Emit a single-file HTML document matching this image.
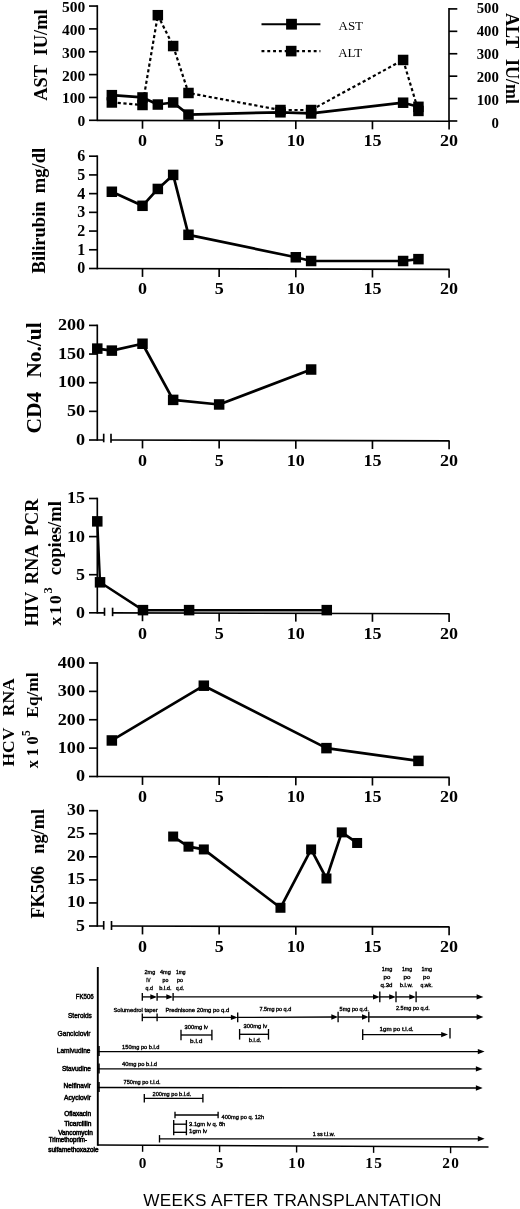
<!DOCTYPE html>
<html><head><meta charset="utf-8"><title>chart</title>
<style>html,body{margin:0;padding:0;background:#fff}svg{display:block;will-change:transform}</style>
</head><body>
<svg width="520" height="1209" viewBox="0 0 520 1209">
<rect width="520" height="1209" fill="#fff"/>
<line x1="97.30" y1="5.22" x2="97.30" y2="121.12" stroke="#000" stroke-width="1.65" />
<line x1="89.00" y1="120.30" x2="97.30" y2="120.30" stroke="#000" stroke-width="1.65" />
<text x="85.30" y="126.20" font-size="15.5" text-anchor="end" font-family="Liberation Serif" font-weight="bold" >0</text>
<line x1="89.00" y1="97.45" x2="97.30" y2="97.45" stroke="#000" stroke-width="1.65" />
<text x="85.30" y="103.35" font-size="15.5" text-anchor="end" font-family="Liberation Serif" font-weight="bold" >100</text>
<line x1="89.00" y1="74.60" x2="97.30" y2="74.60" stroke="#000" stroke-width="1.65" />
<text x="85.30" y="80.50" font-size="15.5" text-anchor="end" font-family="Liberation Serif" font-weight="bold" >200</text>
<line x1="89.00" y1="51.75" x2="97.30" y2="51.75" stroke="#000" stroke-width="1.65" />
<text x="85.30" y="57.65" font-size="15.5" text-anchor="end" font-family="Liberation Serif" font-weight="bold" >300</text>
<line x1="89.00" y1="28.90" x2="97.30" y2="28.90" stroke="#000" stroke-width="1.65" />
<text x="85.30" y="34.80" font-size="15.5" text-anchor="end" font-family="Liberation Serif" font-weight="bold" >400</text>
<line x1="89.00" y1="6.05" x2="97.30" y2="6.05" stroke="#000" stroke-width="1.65" />
<text x="85.30" y="11.95" font-size="15.5" text-anchor="end" font-family="Liberation Serif" font-weight="bold" >500</text>
<line x1="97.30" y1="120.30" x2="449.60" y2="121.20" stroke="#000" stroke-width="1.65" />
<line x1="142.50" y1="120.42" x2="142.50" y2="128.72" stroke="#000" stroke-width="1.65" />
<text transform="translate(142.50,146.00) scale(1.05,1)" font-size="17.2" text-anchor="middle" font-family="Liberation Serif" font-weight="bold" >0</text>
<line x1="219.15" y1="120.61" x2="219.15" y2="128.91" stroke="#000" stroke-width="1.65" />
<text transform="translate(219.15,146.00) scale(1.05,1)" font-size="17.2" text-anchor="middle" font-family="Liberation Serif" font-weight="bold" >5</text>
<line x1="295.80" y1="120.81" x2="295.80" y2="129.11" stroke="#000" stroke-width="1.65" />
<text transform="translate(295.80,146.00) scale(1.05,1)" font-size="17.2" text-anchor="middle" font-family="Liberation Serif" font-weight="bold" >10</text>
<line x1="372.45" y1="121.00" x2="372.45" y2="129.30" stroke="#000" stroke-width="1.65" />
<text transform="translate(372.45,146.00) scale(1.05,1)" font-size="17.2" text-anchor="middle" font-family="Liberation Serif" font-weight="bold" >15</text>
<line x1="449.10" y1="121.20" x2="449.10" y2="129.50" stroke="#000" stroke-width="1.65" />
<text transform="translate(449.10,146.00) scale(1.05,1)" font-size="17.2" text-anchor="middle" font-family="Liberation Serif" font-weight="bold" >20</text>
<line x1="449.00" y1="8.08" x2="449.00" y2="121.83" stroke="#000" stroke-width="1.65" />
<line x1="449.00" y1="121.00" x2="457.30" y2="121.00" stroke="#000" stroke-width="1.65" />
<text x="498.90" y="127.50" font-size="14.8" text-anchor="end" font-family="Liberation Serif" font-weight="bold" >0</text>
<line x1="449.00" y1="98.58" x2="457.30" y2="98.58" stroke="#000" stroke-width="1.65" />
<text x="498.90" y="104.55" font-size="14.8" text-anchor="end" font-family="Liberation Serif" font-weight="bold" >100</text>
<line x1="449.00" y1="76.16" x2="457.30" y2="76.16" stroke="#000" stroke-width="1.65" />
<text x="498.90" y="81.60" font-size="14.8" text-anchor="end" font-family="Liberation Serif" font-weight="bold" >200</text>
<line x1="449.00" y1="53.74" x2="457.30" y2="53.74" stroke="#000" stroke-width="1.65" />
<text x="498.90" y="58.65" font-size="14.8" text-anchor="end" font-family="Liberation Serif" font-weight="bold" >300</text>
<line x1="449.00" y1="31.32" x2="457.30" y2="31.32" stroke="#000" stroke-width="1.65" />
<text x="498.90" y="35.70" font-size="14.8" text-anchor="end" font-family="Liberation Serif" font-weight="bold" >400</text>
<line x1="449.00" y1="8.90" x2="457.30" y2="8.90" stroke="#000" stroke-width="1.65" />
<text x="498.90" y="12.75" font-size="14.8" text-anchor="end" font-family="Liberation Serif" font-weight="bold" >500</text>
<polyline points="111.84,102.48 142.50,104.99 157.83,15.19 173.16,46.04 188.49,92.99 280.47,110.02 311.13,110.02 403.11,59.98 418.44,110.93" fill="none" stroke="#000" stroke-width="2.2" stroke-dasharray="3.2 2.6" stroke-linejoin="round"/>
<polyline points="111.84,95.16 142.50,97.45 157.83,104.53 173.16,102.48 188.49,114.59 280.47,112.30 311.13,113.44 403.11,102.71 418.44,106.82" fill="none" stroke="#000" stroke-width="2.7" stroke-linejoin="round"/>
<rect x="106.59" y="97.23" width="10.5" height="10.5" fill="#000"/>
<rect x="137.25" y="99.74" width="10.5" height="10.5" fill="#000"/>
<rect x="152.58" y="9.94" width="10.5" height="10.5" fill="#000"/>
<rect x="167.91" y="40.79" width="10.5" height="10.5" fill="#000"/>
<rect x="183.24" y="87.74" width="10.5" height="10.5" fill="#000"/>
<rect x="275.22" y="104.77" width="10.5" height="10.5" fill="#000"/>
<rect x="305.88" y="104.77" width="10.5" height="10.5" fill="#000"/>
<rect x="397.86" y="54.73" width="10.5" height="10.5" fill="#000"/>
<rect x="413.19" y="105.68" width="10.5" height="10.5" fill="#000"/>
<rect x="106.59" y="89.91" width="10.5" height="10.5" fill="#000"/>
<rect x="137.25" y="92.20" width="10.5" height="10.5" fill="#000"/>
<rect x="152.58" y="99.28" width="10.5" height="10.5" fill="#000"/>
<rect x="167.91" y="97.23" width="10.5" height="10.5" fill="#000"/>
<rect x="183.24" y="109.34" width="10.5" height="10.5" fill="#000"/>
<rect x="275.22" y="107.05" width="10.5" height="10.5" fill="#000"/>
<rect x="305.88" y="108.19" width="10.5" height="10.5" fill="#000"/>
<rect x="397.86" y="97.46" width="10.5" height="10.5" fill="#000"/>
<rect x="413.19" y="101.57" width="10.5" height="10.5" fill="#000"/>
<text transform="translate(47.00,100.80) rotate(-90)" font-size="18.5" text-anchor="start" font-family="Liberation Serif" font-weight="bold" >AST</text>
<text transform="translate(47.00,9.30) rotate(-90)" font-size="18.5" text-anchor="end" font-family="Liberation Serif" font-weight="bold" >IU/ml</text>
<text transform="translate(506.20,13.00) rotate(90)" font-size="18" text-anchor="start" font-family="Liberation Serif" font-weight="bold" >ALT</text>
<text transform="translate(506.20,104.00) rotate(90)" font-size="18" text-anchor="end" font-family="Liberation Serif" font-weight="bold" >IU/ml</text>
<line x1="261.50" y1="24.20" x2="320.40" y2="24.20" stroke="#000" stroke-width="2.1" />
<rect x="286.10" y="18.80" width="10.8" height="10.8" fill="#000"/>
<line x1="261.50" y1="51.10" x2="320.40" y2="51.10" stroke="#000" stroke-width="2.1" stroke-dasharray="2.9 2.9"/>
<rect x="285.90" y="45.80" width="10.6" height="10.6" fill="#000"/>
<text x="338.50" y="30.30" font-size="13" text-anchor="start" font-family="Liberation Serif" >AST</text>
<text x="338.20" y="56.90" font-size="13" text-anchor="start" font-family="Liberation Serif" >ALT</text>
<line x1="97.30" y1="155.38" x2="97.30" y2="269.32" stroke="#000" stroke-width="1.65" />
<line x1="89.00" y1="268.50" x2="97.30" y2="268.50" stroke="#000" stroke-width="1.65" />
<text x="85.30" y="273.40" font-size="16" text-anchor="end" font-family="Liberation Serif" font-weight="bold" >0</text>
<line x1="89.00" y1="249.78" x2="97.30" y2="249.78" stroke="#000" stroke-width="1.65" />
<text x="85.30" y="254.68" font-size="16" text-anchor="end" font-family="Liberation Serif" font-weight="bold" >1</text>
<line x1="89.00" y1="231.07" x2="97.30" y2="231.07" stroke="#000" stroke-width="1.65" />
<text x="85.30" y="235.97" font-size="16" text-anchor="end" font-family="Liberation Serif" font-weight="bold" >2</text>
<line x1="89.00" y1="212.35" x2="97.30" y2="212.35" stroke="#000" stroke-width="1.65" />
<text x="85.30" y="217.25" font-size="16" text-anchor="end" font-family="Liberation Serif" font-weight="bold" >3</text>
<line x1="89.00" y1="193.63" x2="97.30" y2="193.63" stroke="#000" stroke-width="1.65" />
<text x="85.30" y="198.53" font-size="16" text-anchor="end" font-family="Liberation Serif" font-weight="bold" >4</text>
<line x1="89.00" y1="174.92" x2="97.30" y2="174.92" stroke="#000" stroke-width="1.65" />
<text x="85.30" y="179.82" font-size="16" text-anchor="end" font-family="Liberation Serif" font-weight="bold" >5</text>
<line x1="89.00" y1="156.20" x2="97.30" y2="156.20" stroke="#000" stroke-width="1.65" />
<text x="85.30" y="161.10" font-size="16" text-anchor="end" font-family="Liberation Serif" font-weight="bold" >6</text>
<line x1="97.30" y1="268.50" x2="449.60" y2="269.40" stroke="#000" stroke-width="1.65" />
<line x1="142.50" y1="268.62" x2="142.50" y2="276.92" stroke="#000" stroke-width="1.65" />
<text transform="translate(142.50,293.80) scale(1.05,1)" font-size="17.2" text-anchor="middle" font-family="Liberation Serif" font-weight="bold" >0</text>
<line x1="219.15" y1="268.81" x2="219.15" y2="277.11" stroke="#000" stroke-width="1.65" />
<text transform="translate(219.15,293.80) scale(1.05,1)" font-size="17.2" text-anchor="middle" font-family="Liberation Serif" font-weight="bold" >5</text>
<line x1="295.80" y1="269.01" x2="295.80" y2="277.31" stroke="#000" stroke-width="1.65" />
<text transform="translate(295.80,293.80) scale(1.05,1)" font-size="17.2" text-anchor="middle" font-family="Liberation Serif" font-weight="bold" >10</text>
<line x1="372.45" y1="269.20" x2="372.45" y2="277.50" stroke="#000" stroke-width="1.65" />
<text transform="translate(372.45,293.80) scale(1.05,1)" font-size="17.2" text-anchor="middle" font-family="Liberation Serif" font-weight="bold" >15</text>
<line x1="449.10" y1="269.40" x2="449.10" y2="277.70" stroke="#000" stroke-width="1.65" />
<text transform="translate(449.10,293.80) scale(1.05,1)" font-size="17.2" text-anchor="middle" font-family="Liberation Serif" font-weight="bold" >20</text>
<polyline points="111.84,191.76 142.50,205.80 157.83,188.95 173.16,174.92 188.49,234.81 295.80,257.27 311.13,261.01 403.11,261.01 418.44,259.14" fill="none" stroke="#000" stroke-width="2.7" stroke-linejoin="round"/>
<rect x="106.59" y="186.51" width="10.5" height="10.5" fill="#000"/>
<rect x="137.25" y="200.55" width="10.5" height="10.5" fill="#000"/>
<rect x="152.58" y="183.70" width="10.5" height="10.5" fill="#000"/>
<rect x="167.91" y="169.67" width="10.5" height="10.5" fill="#000"/>
<rect x="183.24" y="229.56" width="10.5" height="10.5" fill="#000"/>
<rect x="290.55" y="252.02" width="10.5" height="10.5" fill="#000"/>
<rect x="305.88" y="255.76" width="10.5" height="10.5" fill="#000"/>
<rect x="397.86" y="255.76" width="10.5" height="10.5" fill="#000"/>
<rect x="413.19" y="253.89" width="10.5" height="10.5" fill="#000"/>
<text transform="translate(44.90,273.40) rotate(-90)" font-size="18.5" text-anchor="start" font-family="Liberation Serif" font-weight="bold" >Bilirubin</text>
<text transform="translate(44.90,147.90) rotate(-90)" font-size="18.5" text-anchor="end" font-family="Liberation Serif" font-weight="bold" >mg/dl</text>
<line x1="97.30" y1="324.57" x2="97.30" y2="440.82" stroke="#000" stroke-width="1.65" />
<line x1="89.00" y1="440.00" x2="97.30" y2="440.00" stroke="#000" stroke-width="1.65" />
<text transform="translate(85.20,444.60) scale(1.07,1)" font-size="17" text-anchor="end" font-family="Liberation Serif" font-weight="bold" >0</text>
<line x1="89.00" y1="411.35" x2="97.30" y2="411.35" stroke="#000" stroke-width="1.65" />
<text transform="translate(85.20,415.95) scale(1.07,1)" font-size="17" text-anchor="end" font-family="Liberation Serif" font-weight="bold" >50</text>
<line x1="89.00" y1="382.70" x2="97.30" y2="382.70" stroke="#000" stroke-width="1.65" />
<text transform="translate(85.20,387.30) scale(1.07,1)" font-size="17" text-anchor="end" font-family="Liberation Serif" font-weight="bold" >100</text>
<line x1="89.00" y1="354.05" x2="97.30" y2="354.05" stroke="#000" stroke-width="1.65" />
<text transform="translate(85.20,358.65) scale(1.07,1)" font-size="17" text-anchor="end" font-family="Liberation Serif" font-weight="bold" >150</text>
<line x1="89.00" y1="325.40" x2="97.30" y2="325.40" stroke="#000" stroke-width="1.65" />
<text transform="translate(85.20,330.00) scale(1.07,1)" font-size="17" text-anchor="end" font-family="Liberation Serif" font-weight="bold" >200</text>
<line x1="97.30" y1="440.00" x2="103.70" y2="440.02" stroke="#000" stroke-width="1.65" />
<line x1="103.70" y1="433.70" x2="103.70" y2="442.30" stroke="#000" stroke-width="1.65" />
<line x1="111.00" y1="433.70" x2="111.00" y2="442.70" stroke="#000" stroke-width="1.65" />
<line x1="111.00" y1="440.03" x2="449.60" y2="440.90" stroke="#000" stroke-width="1.65" />
<line x1="142.50" y1="440.12" x2="142.50" y2="448.42" stroke="#000" stroke-width="1.65" />
<text transform="translate(142.50,466.30) scale(1.05,1)" font-size="17.2" text-anchor="middle" font-family="Liberation Serif" font-weight="bold" >0</text>
<line x1="219.15" y1="440.31" x2="219.15" y2="448.61" stroke="#000" stroke-width="1.65" />
<text transform="translate(219.15,466.30) scale(1.05,1)" font-size="17.2" text-anchor="middle" font-family="Liberation Serif" font-weight="bold" >5</text>
<line x1="295.80" y1="440.51" x2="295.80" y2="448.81" stroke="#000" stroke-width="1.65" />
<text transform="translate(295.80,466.30) scale(1.05,1)" font-size="17.2" text-anchor="middle" font-family="Liberation Serif" font-weight="bold" >10</text>
<line x1="372.45" y1="440.70" x2="372.45" y2="449.00" stroke="#000" stroke-width="1.65" />
<text transform="translate(372.45,466.30) scale(1.05,1)" font-size="17.2" text-anchor="middle" font-family="Liberation Serif" font-weight="bold" >15</text>
<line x1="449.10" y1="440.90" x2="449.10" y2="449.20" stroke="#000" stroke-width="1.65" />
<text transform="translate(449.10,466.30) scale(1.05,1)" font-size="17.2" text-anchor="middle" font-family="Liberation Serif" font-weight="bold" >20</text>
<polyline points="97.28,348.61 111.84,350.61 142.50,343.74 173.16,399.89 219.15,404.47 311.13,369.52" fill="none" stroke="#000" stroke-width="2.7" stroke-linejoin="round"/>
<rect x="92.03" y="343.36" width="10.5" height="10.5" fill="#000"/>
<rect x="106.59" y="345.36" width="10.5" height="10.5" fill="#000"/>
<rect x="137.25" y="338.49" width="10.5" height="10.5" fill="#000"/>
<rect x="167.91" y="394.64" width="10.5" height="10.5" fill="#000"/>
<rect x="213.90" y="399.22" width="10.5" height="10.5" fill="#000"/>
<rect x="305.88" y="364.27" width="10.5" height="10.5" fill="#000"/>
<text transform="translate(40.90,433.60) rotate(-90)" font-size="21.5" text-anchor="start" font-family="Liberation Serif" font-weight="bold" >CD4</text>
<text transform="translate(40.90,322.30) rotate(-90)" font-size="21.5" text-anchor="end" font-family="Liberation Serif" font-weight="bold" >No./ul</text>
<line x1="97.30" y1="497.68" x2="97.30" y2="613.62" stroke="#000" stroke-width="1.65" />
<line x1="89.00" y1="612.80" x2="97.30" y2="612.80" stroke="#000" stroke-width="1.65" />
<text transform="translate(84.90,617.70) scale(1.04,1)" font-size="17.3" text-anchor="end" font-family="Liberation Serif" font-weight="bold" >0</text>
<line x1="89.00" y1="574.70" x2="97.30" y2="574.70" stroke="#000" stroke-width="1.65" />
<text transform="translate(84.90,579.60) scale(1.04,1)" font-size="17.3" text-anchor="end" font-family="Liberation Serif" font-weight="bold" >5</text>
<line x1="89.00" y1="536.60" x2="97.30" y2="536.60" stroke="#000" stroke-width="1.65" />
<text transform="translate(84.90,541.50) scale(1.04,1)" font-size="17.3" text-anchor="end" font-family="Liberation Serif" font-weight="bold" >10</text>
<line x1="89.00" y1="498.50" x2="97.30" y2="498.50" stroke="#000" stroke-width="1.65" />
<text transform="translate(84.90,503.40) scale(1.04,1)" font-size="17.3" text-anchor="end" font-family="Liberation Serif" font-weight="bold" >15</text>
<line x1="97.30" y1="612.80" x2="104.50" y2="612.82" stroke="#000" stroke-width="1.65" />
<line x1="104.50" y1="607.70" x2="104.50" y2="615.80" stroke="#000" stroke-width="1.65" />
<line x1="112.60" y1="607.70" x2="112.60" y2="616.20" stroke="#000" stroke-width="1.65" />
<line x1="112.60" y1="612.84" x2="449.60" y2="613.70" stroke="#000" stroke-width="1.65" />
<line x1="142.50" y1="612.92" x2="142.50" y2="621.22" stroke="#000" stroke-width="1.65" />
<text transform="translate(142.50,639.10) scale(1.05,1)" font-size="17.2" text-anchor="middle" font-family="Liberation Serif" font-weight="bold" >0</text>
<line x1="219.15" y1="613.11" x2="219.15" y2="621.41" stroke="#000" stroke-width="1.65" />
<text transform="translate(219.15,639.10) scale(1.05,1)" font-size="17.2" text-anchor="middle" font-family="Liberation Serif" font-weight="bold" >5</text>
<line x1="295.80" y1="613.31" x2="295.80" y2="621.61" stroke="#000" stroke-width="1.65" />
<text transform="translate(295.80,639.10) scale(1.05,1)" font-size="17.2" text-anchor="middle" font-family="Liberation Serif" font-weight="bold" >10</text>
<line x1="372.45" y1="613.50" x2="372.45" y2="621.80" stroke="#000" stroke-width="1.65" />
<text transform="translate(372.45,639.10) scale(1.05,1)" font-size="17.2" text-anchor="middle" font-family="Liberation Serif" font-weight="bold" >15</text>
<line x1="449.10" y1="613.70" x2="449.10" y2="622.00" stroke="#000" stroke-width="1.65" />
<text transform="translate(449.10,639.10) scale(1.05,1)" font-size="17.2" text-anchor="middle" font-family="Liberation Serif" font-weight="bold" >20</text>
<line x1="142.50" y1="611.75" x2="326.46" y2="611.90" stroke="#000" stroke-width="0.9" opacity="0.45"/>
<polyline points="97.28,521.36 100.04,582.32 142.96,610.13 189.10,610.13 326.77,610.13" fill="none" stroke="#000" stroke-width="2.4" stroke-linejoin="round"/>
<rect x="92.03" y="516.11" width="10.5" height="10.5" fill="#000"/>
<rect x="94.79" y="577.07" width="10.5" height="10.5" fill="#000"/>
<rect x="137.71" y="604.88" width="10.5" height="10.5" fill="#000"/>
<rect x="183.85" y="604.88" width="10.5" height="10.5" fill="#000"/>
<rect x="321.52" y="604.88" width="10.5" height="10.5" fill="#000"/>
<text transform="translate(37.60,626.30) rotate(-90)" font-size="18.3" text-anchor="start" font-family="Liberation Serif" font-weight="bold" >HIV</text>
<text transform="translate(37.60,564.40) rotate(-90)" font-size="18.3" text-anchor="middle" font-family="Liberation Serif" font-weight="bold" >RNA</text>
<text transform="translate(37.60,498.50) rotate(-90)" font-size="18.3" text-anchor="end" font-family="Liberation Serif" font-weight="bold" >PCR</text>
<text transform="translate(60.50,625.60) rotate(-90)" font-size="17.6" text-anchor="start" font-family="Liberation Serif" font-weight="bold" letter-spacing="2.0">x10</text>
<text transform="translate(52.40,593.60) rotate(-90)" font-size="12.5" text-anchor="start" font-family="Liberation Serif" font-weight="bold" >3</text>
<text transform="translate(60.50,501.20) rotate(-90)" font-size="18.5" text-anchor="end" font-family="Liberation Serif" font-weight="bold" >copies/ml</text>
<line x1="97.30" y1="662.17" x2="97.30" y2="777.33" stroke="#000" stroke-width="1.65" />
<line x1="89.00" y1="776.50" x2="97.30" y2="776.50" stroke="#000" stroke-width="1.65" />
<text transform="translate(85.00,781.30) scale(1.04,1)" font-size="17.5" text-anchor="end" font-family="Liberation Serif" font-weight="bold" >0</text>
<line x1="89.00" y1="748.12" x2="97.30" y2="748.12" stroke="#000" stroke-width="1.65" />
<text transform="translate(85.00,752.92) scale(1.04,1)" font-size="17.5" text-anchor="end" font-family="Liberation Serif" font-weight="bold" >100</text>
<line x1="89.00" y1="719.75" x2="97.30" y2="719.75" stroke="#000" stroke-width="1.65" />
<text transform="translate(85.00,724.55) scale(1.04,1)" font-size="17.5" text-anchor="end" font-family="Liberation Serif" font-weight="bold" >200</text>
<line x1="89.00" y1="691.38" x2="97.30" y2="691.38" stroke="#000" stroke-width="1.65" />
<text transform="translate(85.00,696.17) scale(1.04,1)" font-size="17.5" text-anchor="end" font-family="Liberation Serif" font-weight="bold" >300</text>
<line x1="89.00" y1="663.00" x2="97.30" y2="663.00" stroke="#000" stroke-width="1.65" />
<text transform="translate(85.00,667.80) scale(1.04,1)" font-size="17.5" text-anchor="end" font-family="Liberation Serif" font-weight="bold" >400</text>
<line x1="97.30" y1="776.50" x2="449.60" y2="777.40" stroke="#000" stroke-width="1.65" />
<line x1="142.50" y1="776.62" x2="142.50" y2="784.92" stroke="#000" stroke-width="1.65" />
<text transform="translate(142.50,801.90) scale(1.05,1)" font-size="17.2" text-anchor="middle" font-family="Liberation Serif" font-weight="bold" >0</text>
<line x1="219.15" y1="776.81" x2="219.15" y2="785.11" stroke="#000" stroke-width="1.65" />
<text transform="translate(219.15,801.90) scale(1.05,1)" font-size="17.2" text-anchor="middle" font-family="Liberation Serif" font-weight="bold" >5</text>
<line x1="295.80" y1="777.01" x2="295.80" y2="785.31" stroke="#000" stroke-width="1.65" />
<text transform="translate(295.80,801.90) scale(1.05,1)" font-size="17.2" text-anchor="middle" font-family="Liberation Serif" font-weight="bold" >10</text>
<line x1="372.45" y1="777.20" x2="372.45" y2="785.50" stroke="#000" stroke-width="1.65" />
<text transform="translate(372.45,801.90) scale(1.05,1)" font-size="17.2" text-anchor="middle" font-family="Liberation Serif" font-weight="bold" >15</text>
<line x1="449.10" y1="777.40" x2="449.10" y2="785.70" stroke="#000" stroke-width="1.65" />
<text transform="translate(449.10,801.90) scale(1.05,1)" font-size="17.2" text-anchor="middle" font-family="Liberation Serif" font-weight="bold" >20</text>
<polyline points="111.84,740.46 203.82,685.70 326.46,748.12 418.44,760.89" fill="none" stroke="#000" stroke-width="2.7" stroke-linejoin="round"/>
<rect x="106.59" y="735.21" width="10.5" height="10.5" fill="#000"/>
<rect x="198.57" y="680.45" width="10.5" height="10.5" fill="#000"/>
<rect x="321.21" y="742.88" width="10.5" height="10.5" fill="#000"/>
<rect x="413.19" y="755.64" width="10.5" height="10.5" fill="#000"/>
<text transform="translate(14.40,766.50) rotate(-90)" font-size="17.5" text-anchor="start" font-family="Liberation Serif" font-weight="bold" >HCV</text>
<text transform="translate(14.40,678.30) rotate(-90)" font-size="17.5" text-anchor="end" font-family="Liberation Serif" font-weight="bold" >RNA</text>
<text transform="translate(37.50,768.20) rotate(-90)" font-size="16.2" text-anchor="start" font-family="Liberation Serif" font-weight="bold" letter-spacing="3.8">x10</text>
<text transform="translate(29.60,736.00) rotate(-90)" font-size="11.5" text-anchor="start" font-family="Liberation Serif" font-weight="bold" >5</text>
<text transform="translate(37.50,672.50) rotate(-90)" font-size="17.3" text-anchor="end" font-family="Liberation Serif" font-weight="bold" >Eq/ml</text>
<line x1="97.30" y1="809.88" x2="97.30" y2="926.83" stroke="#000" stroke-width="1.65" />
<line x1="89.00" y1="926.00" x2="97.30" y2="926.00" stroke="#000" stroke-width="1.65" />
<text transform="translate(84.90,930.50) scale(1.05,1)" font-size="17" text-anchor="end" font-family="Liberation Serif" font-weight="bold" >5</text>
<line x1="89.00" y1="902.94" x2="97.30" y2="902.94" stroke="#000" stroke-width="1.65" />
<text transform="translate(84.90,907.44) scale(1.05,1)" font-size="17" text-anchor="end" font-family="Liberation Serif" font-weight="bold" >10</text>
<line x1="89.00" y1="879.88" x2="97.30" y2="879.88" stroke="#000" stroke-width="1.65" />
<text transform="translate(84.90,884.38) scale(1.05,1)" font-size="17" text-anchor="end" font-family="Liberation Serif" font-weight="bold" >15</text>
<line x1="89.00" y1="856.82" x2="97.30" y2="856.82" stroke="#000" stroke-width="1.65" />
<text transform="translate(84.90,861.32) scale(1.05,1)" font-size="17" text-anchor="end" font-family="Liberation Serif" font-weight="bold" >20</text>
<line x1="89.00" y1="833.76" x2="97.30" y2="833.76" stroke="#000" stroke-width="1.65" />
<text transform="translate(84.90,838.26) scale(1.05,1)" font-size="17" text-anchor="end" font-family="Liberation Serif" font-weight="bold" >25</text>
<line x1="89.00" y1="810.70" x2="97.30" y2="810.70" stroke="#000" stroke-width="1.65" />
<text transform="translate(84.90,815.20) scale(1.05,1)" font-size="17" text-anchor="end" font-family="Liberation Serif" font-weight="bold" >30</text>
<line x1="97.30" y1="926.00" x2="103.70" y2="926.02" stroke="#000" stroke-width="1.65" />
<line x1="103.70" y1="921.00" x2="103.70" y2="929.60" stroke="#000" stroke-width="1.65" />
<line x1="111.50" y1="921.00" x2="111.50" y2="930.00" stroke="#000" stroke-width="1.65" />
<line x1="111.50" y1="926.04" x2="449.60" y2="926.90" stroke="#000" stroke-width="1.65" />
<line x1="142.50" y1="926.12" x2="142.50" y2="934.42" stroke="#000" stroke-width="1.65" />
<text transform="translate(142.50,952.30) scale(1.05,1)" font-size="17.2" text-anchor="middle" font-family="Liberation Serif" font-weight="bold" >0</text>
<line x1="219.15" y1="926.31" x2="219.15" y2="934.61" stroke="#000" stroke-width="1.65" />
<text transform="translate(219.15,952.30) scale(1.05,1)" font-size="17.2" text-anchor="middle" font-family="Liberation Serif" font-weight="bold" >5</text>
<line x1="295.80" y1="926.51" x2="295.80" y2="934.81" stroke="#000" stroke-width="1.65" />
<text transform="translate(295.80,952.30) scale(1.05,1)" font-size="17.2" text-anchor="middle" font-family="Liberation Serif" font-weight="bold" >10</text>
<line x1="372.45" y1="926.70" x2="372.45" y2="935.00" stroke="#000" stroke-width="1.65" />
<text transform="translate(372.45,952.30) scale(1.05,1)" font-size="17.2" text-anchor="middle" font-family="Liberation Serif" font-weight="bold" >15</text>
<line x1="449.10" y1="926.90" x2="449.10" y2="935.20" stroke="#000" stroke-width="1.65" />
<text transform="translate(449.10,952.30) scale(1.05,1)" font-size="17.2" text-anchor="middle" font-family="Liberation Serif" font-weight="bold" >20</text>
<polyline points="173.16,836.53 188.49,846.67 203.82,849.44 280.47,907.78 311.13,849.44 326.46,878.50 341.79,832.38 357.12,842.98" fill="none" stroke="#000" stroke-width="2.7" stroke-linejoin="round"/>
<rect x="168.16" y="831.53" width="10" height="10" fill="#000"/>
<rect x="183.49" y="841.67" width="10" height="10" fill="#000"/>
<rect x="198.82" y="844.44" width="10" height="10" fill="#000"/>
<rect x="275.47" y="902.78" width="10" height="10" fill="#000"/>
<rect x="306.13" y="844.44" width="10" height="10" fill="#000"/>
<rect x="321.46" y="873.50" width="10" height="10" fill="#000"/>
<rect x="336.79" y="827.38" width="10" height="10" fill="#000"/>
<rect x="352.12" y="837.98" width="10" height="10" fill="#000"/>
<text transform="translate(44.20,918.60) rotate(-90)" font-size="18.3" text-anchor="start" font-family="Liberation Serif" font-weight="bold" >FK506</text>
<text transform="translate(44.20,809.00) rotate(-90)" font-size="18.3" text-anchor="end" font-family="Liberation Serif" font-weight="bold" >ng/ml</text>
<line x1="97.80" y1="967.00" x2="97.80" y2="1145.80" stroke="#000" stroke-width="1.9" />
<line x1="99.00" y1="1046.00" x2="99.00" y2="1056.00" stroke="#000" stroke-width="1.5" />
<line x1="99.00" y1="1063.40" x2="99.00" y2="1073.40" stroke="#000" stroke-width="1.5" />
<line x1="99.00" y1="1082.10" x2="99.00" y2="1092.10" stroke="#000" stroke-width="1.5" />
<line x1="97.80" y1="1145.10" x2="488.50" y2="1146.90" stroke="#000" stroke-width="1.5" />
<line x1="142.60" y1="1145.31" x2="142.60" y2="1151.81" stroke="#000" stroke-width="1.4" />
<text x="142.60" y="1167.80" font-size="15.3" text-anchor="middle" font-family="Liberation Serif" font-weight="bold" >0</text>
<line x1="219.60" y1="1145.66" x2="219.60" y2="1152.16" stroke="#000" stroke-width="1.4" />
<text x="219.60" y="1167.80" font-size="15.3" text-anchor="middle" font-family="Liberation Serif" font-weight="bold" >5</text>
<line x1="296.60" y1="1146.02" x2="296.60" y2="1152.52" stroke="#000" stroke-width="1.4" />
<text x="297.30" y="1167.80" font-size="15.3" text-anchor="middle" font-family="Liberation Serif" font-weight="bold" letter-spacing="1.4">10</text>
<line x1="373.60" y1="1146.37" x2="373.60" y2="1152.87" stroke="#000" stroke-width="1.4" />
<text x="374.30" y="1167.80" font-size="15.3" text-anchor="middle" font-family="Liberation Serif" font-weight="bold" letter-spacing="1.4">15</text>
<line x1="450.60" y1="1146.73" x2="450.60" y2="1153.23" stroke="#000" stroke-width="1.4" />
<text x="451.30" y="1167.80" font-size="15.3" text-anchor="middle" font-family="Liberation Serif" font-weight="bold" letter-spacing="1.4">20</text>
<text x="75.70" y="998.90" font-size="6.9" textLength="18.10" lengthAdjust="spacingAndGlyphs" font-family="Liberation Sans" stroke="#000" stroke-width="0.45">FK506</text>
<text x="68.00" y="1018.10" font-size="6.9" textLength="23.80" lengthAdjust="spacingAndGlyphs" font-family="Liberation Sans" stroke="#000" stroke-width="0.45">Steroids</text>
<text x="57.50" y="1036.00" font-size="6.9" textLength="33.00" lengthAdjust="spacingAndGlyphs" font-family="Liberation Sans" stroke="#000" stroke-width="0.45">Ganciclovir</text>
<text x="56.80" y="1053.20" font-size="6.9" textLength="33.70" lengthAdjust="spacingAndGlyphs" font-family="Liberation Sans" stroke="#000" stroke-width="0.45">Lamivudine</text>
<text x="61.90" y="1070.60" font-size="6.9" textLength="29.00" lengthAdjust="spacingAndGlyphs" font-family="Liberation Sans" stroke="#000" stroke-width="0.5">Stavudine</text>
<text x="63.60" y="1088.10" font-size="6.9" textLength="27.30" lengthAdjust="spacingAndGlyphs" font-family="Liberation Sans" stroke="#000" stroke-width="0.5">Nelfinavir</text>
<text x="64.00" y="1099.90" font-size="6.9" textLength="26.90" lengthAdjust="spacingAndGlyphs" font-family="Liberation Sans" stroke="#000" stroke-width="0.5">Acyclovir</text>
<text x="64.20" y="1116.30" font-size="6.9" textLength="26.90" lengthAdjust="spacingAndGlyphs" font-family="Liberation Sans" stroke="#000" stroke-width="0.55">Oflaxacin</text>
<text x="64.20" y="1125.50" font-size="6.9" textLength="27.20" lengthAdjust="spacingAndGlyphs" font-family="Liberation Sans" stroke="#000" stroke-width="0.55">Ticarcillin</text>
<text x="58.20" y="1134.60" font-size="6.9" textLength="34.60" lengthAdjust="spacingAndGlyphs" font-family="Liberation Sans" stroke="#000" stroke-width="0.55">Vancomycin</text>
<text x="48.70" y="1142.30" font-size="6.9" textLength="38.40" lengthAdjust="spacingAndGlyphs" font-family="Liberation Sans" stroke="#000" stroke-width="0.55">Trimethoprim-</text>
<text x="48.30" y="1151.70" font-size="6.9" textLength="50.20" lengthAdjust="spacingAndGlyphs" font-family="Liberation Sans" stroke="#000" stroke-width="0.55">sulfamethoxazole</text>
<line x1="142.30" y1="996.90" x2="154.10" y2="996.90" stroke="#000" stroke-width="1.35" />
<path d="M157.10,996.90 l-6.8,-2.7 v5.4 z" fill="#000"/>
<line x1="142.30" y1="993.10" x2="142.30" y2="1000.70" stroke="#000" stroke-width="1.35" />
<line x1="157.10" y1="993.10" x2="157.10" y2="1000.70" stroke="#000" stroke-width="1.35" />
<line x1="157.10" y1="996.90" x2="170.10" y2="996.90" stroke="#000" stroke-width="1.35" />
<path d="M173.10,996.90 l-6.8,-2.7 v5.4 z" fill="#000"/>
<line x1="173.10" y1="993.10" x2="173.10" y2="1000.70" stroke="#000" stroke-width="1.35" />
<line x1="173.10" y1="996.90" x2="376.80" y2="996.90" stroke="#000" stroke-width="1.35" />
<path d="M379.80,996.90 l-6.8,-2.7 v5.4 z" fill="#000"/>
<line x1="379.80" y1="991.60" x2="379.80" y2="1002.20" stroke="#000" stroke-width="1.35" />
<line x1="379.80" y1="996.90" x2="393.00" y2="996.90" stroke="#000" stroke-width="1.35" />
<path d="M396.00,996.90 l-6.8,-2.7 v5.4 z" fill="#000"/>
<line x1="396.00" y1="991.60" x2="396.00" y2="1002.20" stroke="#000" stroke-width="1.35" />
<line x1="396.00" y1="996.90" x2="413.10" y2="996.90" stroke="#000" stroke-width="1.35" />
<path d="M416.10,996.90 l-6.8,-2.7 v5.4 z" fill="#000"/>
<line x1="416.10" y1="991.60" x2="416.10" y2="1002.20" stroke="#000" stroke-width="1.35" />
<line x1="416.10" y1="996.90" x2="480.40" y2="996.90" stroke="#000" stroke-width="1.35" />
<path d="M483.40,996.90 l-6.8,-2.7 v5.4 z" fill="#000"/>
<text x="144.60" y="974.40" font-size="5.9" textLength="10.60" lengthAdjust="spacingAndGlyphs" font-family="Liberation Sans" stroke="#000" stroke-width="0.35">2mg</text>
<text x="146.20" y="981.50" font-size="5.9" textLength="4.20" lengthAdjust="spacingAndGlyphs" font-family="Liberation Sans" stroke="#000" stroke-width="0.35">IV</text>
<text x="145.60" y="990.40" font-size="5.9" textLength="7.30" lengthAdjust="spacingAndGlyphs" font-family="Liberation Sans" stroke="#000" stroke-width="0.35">q.d</text>
<text x="160.00" y="974.40" font-size="5.9" textLength="10.80" lengthAdjust="spacingAndGlyphs" font-family="Liberation Sans" stroke="#000" stroke-width="0.35">4mg</text>
<text x="162.50" y="981.50" font-size="5.9" textLength="5.80" lengthAdjust="spacingAndGlyphs" font-family="Liberation Sans" stroke="#000" stroke-width="0.35">po</text>
<text x="159.20" y="990.40" font-size="5.9" textLength="12.30" lengthAdjust="spacingAndGlyphs" font-family="Liberation Sans" stroke="#000" stroke-width="0.35">b.i.d.</text>
<text x="176.00" y="974.40" font-size="5.9" textLength="9.60" lengthAdjust="spacingAndGlyphs" font-family="Liberation Sans" stroke="#000" stroke-width="0.35">1mg</text>
<text x="177.00" y="981.50" font-size="5.9" textLength="6.00" lengthAdjust="spacingAndGlyphs" font-family="Liberation Sans" stroke="#000" stroke-width="0.35">po</text>
<text x="176.00" y="990.40" font-size="5.9" textLength="8.00" lengthAdjust="spacingAndGlyphs" font-family="Liberation Sans" stroke="#000" stroke-width="0.35">q.d.</text>
<text x="381.70" y="971.30" font-size="5.9" textLength="10.70" lengthAdjust="spacingAndGlyphs" font-family="Liberation Sans" stroke="#000" stroke-width="0.35">1mg</text>
<text x="383.60" y="978.70" font-size="5.9" textLength="6.80" lengthAdjust="spacingAndGlyphs" font-family="Liberation Sans" stroke="#000" stroke-width="0.35">po</text>
<text x="380.60" y="987.40" font-size="5.9" textLength="11.80" lengthAdjust="spacingAndGlyphs" font-family="Liberation Sans" stroke="#000" stroke-width="0.35">q.3d</text>
<text x="401.90" y="971.30" font-size="5.9" textLength="10.20" lengthAdjust="spacingAndGlyphs" font-family="Liberation Sans" stroke="#000" stroke-width="0.35">1mg</text>
<text x="403.40" y="978.70" font-size="5.9" textLength="7.00" lengthAdjust="spacingAndGlyphs" font-family="Liberation Sans" stroke="#000" stroke-width="0.35">po</text>
<text x="399.80" y="987.40" font-size="5.9" textLength="13.10" lengthAdjust="spacingAndGlyphs" font-family="Liberation Sans" stroke="#000" stroke-width="0.35">b.i.w.</text>
<text x="421.40" y="971.30" font-size="5.9" textLength="10.60" lengthAdjust="spacingAndGlyphs" font-family="Liberation Sans" stroke="#000" stroke-width="0.35">1mg</text>
<text x="423.00" y="978.70" font-size="5.9" textLength="6.80" lengthAdjust="spacingAndGlyphs" font-family="Liberation Sans" stroke="#000" stroke-width="0.35">po</text>
<text x="420.50" y="987.40" font-size="5.9" textLength="12.10" lengthAdjust="spacingAndGlyphs" font-family="Liberation Sans" stroke="#000" stroke-width="0.35">q.wk.</text>
<line x1="142.30" y1="1017.40" x2="157.10" y2="1017.40" stroke="#000" stroke-width="1.35" />
<line x1="142.30" y1="1013.60" x2="142.30" y2="1021.20" stroke="#000" stroke-width="1.35" />
<line x1="157.10" y1="1013.60" x2="157.10" y2="1021.20" stroke="#000" stroke-width="1.35" />
<line x1="157.10" y1="1017.40" x2="234.70" y2="1017.40" stroke="#000" stroke-width="1.35" />
<path d="M237.70,1017.40 l-6.8,-2.7 v5.4 z" fill="#000"/>
<line x1="237.70" y1="1012.60" x2="237.70" y2="1022.20" stroke="#000" stroke-width="1.35" />
<line x1="237.70" y1="1017.40" x2="335.10" y2="1017.00" stroke="#000" stroke-width="1.35" />
<path d="M338.10,1017.00 l-6.8,-2.7 v5.4 z" fill="#000"/>
<line x1="338.10" y1="1011.70" x2="338.10" y2="1022.30" stroke="#000" stroke-width="1.35" />
<line x1="338.10" y1="1017.00" x2="365.80" y2="1017.00" stroke="#000" stroke-width="1.35" />
<path d="M368.80,1017.00 l-6.8,-2.7 v5.4 z" fill="#000"/>
<line x1="368.80" y1="1011.70" x2="368.80" y2="1022.30" stroke="#000" stroke-width="1.35" />
<line x1="368.80" y1="1017.00" x2="480.40" y2="1017.00" stroke="#000" stroke-width="1.35" />
<path d="M483.40,1017.00 l-6.8,-2.7 v5.4 z" fill="#000"/>
<text x="113.50" y="1011.90" font-size="5.9" textLength="44.20" lengthAdjust="spacingAndGlyphs" font-family="Liberation Sans" stroke="#000" stroke-width="0.35">Solumedrol taper</text>
<text x="165.40" y="1011.70" font-size="5.9" textLength="63.80" lengthAdjust="spacingAndGlyphs" font-family="Liberation Sans" stroke="#000" stroke-width="0.35">Prednisone 20mg po q.d</text>
<text x="259.40" y="1011.00" font-size="5.9" textLength="31.80" lengthAdjust="spacingAndGlyphs" font-family="Liberation Sans" stroke="#000" stroke-width="0.35">7.5mg po q.d</text>
<text x="339.60" y="1010.80" font-size="5.9" textLength="29.20" lengthAdjust="spacingAndGlyphs" font-family="Liberation Sans" stroke="#000" stroke-width="0.35">5mg po q.d.</text>
<text x="396.00" y="1010.00" font-size="5.9" textLength="33.80" lengthAdjust="spacingAndGlyphs" font-family="Liberation Sans" stroke="#000" stroke-width="0.35">2.5mg po q.d.</text>
<line x1="181.00" y1="1035.00" x2="211.90" y2="1035.00" stroke="#000" stroke-width="1.35" />
<line x1="181.00" y1="1029.70" x2="181.00" y2="1040.30" stroke="#000" stroke-width="1.35" />
<line x1="211.90" y1="1029.70" x2="211.90" y2="1040.30" stroke="#000" stroke-width="1.35" />
<text x="184.50" y="1028.60" font-size="5.9" textLength="23.50" lengthAdjust="spacingAndGlyphs" font-family="Liberation Sans" stroke="#000" stroke-width="0.35">300mg iv</text>
<text x="190.00" y="1042.70" font-size="5.9" textLength="12.30" lengthAdjust="spacingAndGlyphs" font-family="Liberation Sans" stroke="#000" stroke-width="0.35">b.i.d</text>
<line x1="239.60" y1="1034.30" x2="268.50" y2="1034.30" stroke="#000" stroke-width="1.35" />
<line x1="239.60" y1="1029.00" x2="239.60" y2="1039.60" stroke="#000" stroke-width="1.35" />
<line x1="268.50" y1="1029.00" x2="268.50" y2="1039.60" stroke="#000" stroke-width="1.35" />
<text x="243.50" y="1028.30" font-size="5.9" textLength="23.60" lengthAdjust="spacingAndGlyphs" font-family="Liberation Sans" stroke="#000" stroke-width="0.35">300mg iv</text>
<text x="248.80" y="1042.30" font-size="5.9" textLength="12.50" lengthAdjust="spacingAndGlyphs" font-family="Liberation Sans" stroke="#000" stroke-width="0.35">b.i.d.</text>
<line x1="362.70" y1="1034.60" x2="445.00" y2="1034.60" stroke="#000" stroke-width="1.35" />
<path d="M448.00,1034.60 l-6.8,-2.7 v5.4 z" fill="#000"/>
<line x1="362.70" y1="1029.20" x2="362.70" y2="1040.00" stroke="#000" stroke-width="1.35" />
<line x1="450.00" y1="1028.00" x2="450.00" y2="1038.60" stroke="#000" stroke-width="1.35" />
<text x="379.50" y="1030.70" font-size="5.9" textLength="34.10" lengthAdjust="spacingAndGlyphs" font-family="Liberation Sans" stroke="#000" stroke-width="0.35">1gm po t.i.d.</text>
<line x1="97.80" y1="1051.60" x2="481.60" y2="1051.60" stroke="#000" stroke-width="1.35" />
<path d="M484.60,1051.60 l-6.8,-2.7 v5.4 z" fill="#000"/>
<text x="122.10" y="1048.50" font-size="5.9" textLength="37.40" lengthAdjust="spacingAndGlyphs" font-family="Liberation Sans" stroke="#000" stroke-width="0.35">150mg po b.i.d</text>
<line x1="97.80" y1="1068.90" x2="479.70" y2="1068.90" stroke="#000" stroke-width="1.35" />
<path d="M482.70,1068.90 l-6.8,-2.7 v5.4 z" fill="#000"/>
<text x="122.10" y="1066.00" font-size="5.9" textLength="34.90" lengthAdjust="spacingAndGlyphs" font-family="Liberation Sans" stroke="#000" stroke-width="0.35">40mg po b.i.d</text>
<line x1="97.80" y1="1087.50" x2="479.70" y2="1088.00" stroke="#000" stroke-width="1.35" />
<path d="M482.70,1088.00 l-6.8,-2.7 v5.4 z" fill="#000"/>
<text x="123.60" y="1084.40" font-size="5.9" textLength="37.00" lengthAdjust="spacingAndGlyphs" font-family="Liberation Sans" stroke="#000" stroke-width="0.35">750mg po t.i.d.</text>
<line x1="144.30" y1="1098.30" x2="202.90" y2="1098.30" stroke="#000" stroke-width="1.35" />
<line x1="144.30" y1="1094.10" x2="144.30" y2="1102.50" stroke="#000" stroke-width="1.35" />
<line x1="202.90" y1="1094.10" x2="202.90" y2="1102.50" stroke="#000" stroke-width="1.35" />
<text x="152.50" y="1096.40" font-size="5.9" textLength="38.80" lengthAdjust="spacingAndGlyphs" font-family="Liberation Sans" stroke="#000" stroke-width="0.35">200mg po b.i.d.</text>
<line x1="175.00" y1="1115.00" x2="218.10" y2="1115.00" stroke="#000" stroke-width="1.35" />
<line x1="175.00" y1="1111.70" x2="175.00" y2="1118.30" stroke="#000" stroke-width="1.35" />
<line x1="218.10" y1="1111.70" x2="218.10" y2="1118.30" stroke="#000" stroke-width="1.35" />
<text x="221.50" y="1118.60" font-size="6.0" textLength="42.70" lengthAdjust="spacingAndGlyphs" font-family="Liberation Sans" stroke="#000" stroke-width="0.35">400mg po q. 12h</text>
<line x1="173.70" y1="1120.00" x2="173.70" y2="1135.20" stroke="#000" stroke-width="1.35" />
<line x1="186.40" y1="1120.00" x2="186.40" y2="1135.20" stroke="#000" stroke-width="1.35" />
<line x1="173.70" y1="1124.20" x2="186.40" y2="1124.20" stroke="#000" stroke-width="1.35" />
<line x1="173.70" y1="1132.30" x2="186.40" y2="1132.30" stroke="#000" stroke-width="1.35" />
<text x="189.10" y="1125.60" font-size="6.0" textLength="36.20" lengthAdjust="spacingAndGlyphs" font-family="Liberation Sans" stroke="#000" stroke-width="0.35">3.1gm iv q. 8h</text>
<text x="189.10" y="1133.40" font-size="6.0" textLength="18.00" lengthAdjust="spacingAndGlyphs" font-family="Liberation Sans" stroke="#000" stroke-width="0.35">1gm iv</text>
<line x1="159.50" y1="1138.80" x2="481.60" y2="1138.80" stroke="#000" stroke-width="1.35" />
<path d="M484.60,1138.80 l-6.8,-2.7 v5.4 z" fill="#000"/>
<line x1="159.50" y1="1135.10" x2="159.50" y2="1142.50" stroke="#000" stroke-width="1.35" />
<text x="312.70" y="1136.10" font-size="5.6" textLength="22.20" lengthAdjust="spacingAndGlyphs" font-family="Liberation Sans" stroke="#000" stroke-width="0.35">1 ss t.i.w.</text>
<text x="292.50" y="1206.20" font-size="17.2" text-anchor="middle" font-family="Liberation Sans" letter-spacing="0.3">WEEKS AFTER TRANSPLANTATION</text>
</svg>
</body></html>
